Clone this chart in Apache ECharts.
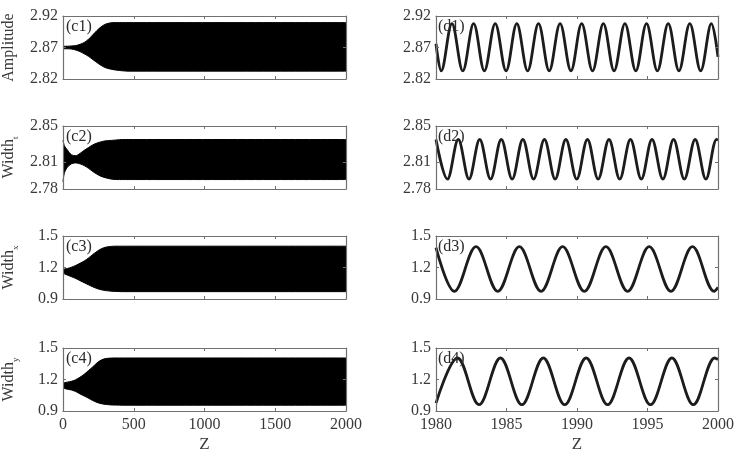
<!DOCTYPE html>
<html><head><meta charset="utf-8">
<script src="https://cdn.jsdelivr.net/npm/echarts@6/dist/echarts.min.js"></script>
<style>html,body{margin:0;padding:0;background:#fff}#c{width:737px;height:454px}</style>
</head><body><div id="c"></div>
<script>
// ---- data ----
const envZ = [0,10,30,60,90,120,150,180,210,240,270,300,340,380,420,460,500,2000];
const c1Upper = [2.872,2.872,2.872,2.8725,2.873,2.875,2.878,2.883,2.890,2.897,2.903,2.907,2.9092,2.9095,2.9095,2.9095,2.9095,2.9095];
const c1Lower = [2.868,2.868,2.868,2.8675,2.866,2.8635,2.860,2.856,2.851,2.846,2.8415,2.838,2.8355,2.834,2.833,2.8325,2.8325,2.8325];
const c2Upper = [2.834,2.828,2.8235,2.818,2.817,2.8195,2.823,2.826,2.829,2.831,2.8325,2.8335,2.834,2.8345,2.835,2.835,2.835,2.835];
const c2Lower = [2.788,2.798,2.804,2.808,2.809,2.808,2.806,2.803,2.7995,2.7965,2.794,2.7925,2.791,2.7905,2.7905,2.7905,2.7905,2.7905];
const c3Upper = [1.183,1.185,1.19,1.203,1.22,1.24,1.262,1.29,1.323,1.353,1.378,1.393,1.401,1.403,1.403,1.403,1.403,1.403];
const c3Lower = [1.145,1.14,1.128,1.112,1.095,1.075,1.055,1.035,1.016,1.0,0.988,0.98,0.975,0.972,0.97,0.97,0.97,0.97];
const c4Upper = [1.168,1.17,1.175,1.183,1.198,1.222,1.25,1.285,1.32,1.358,1.385,1.399,1.404,1.405,1.405,1.405,1.405,1.405];
const c4Lower = [1.118,1.115,1.108,1.1,1.085,1.063,1.043,1.022,1.0,0.982,0.97,0.963,0.958,0.956,0.955,0.955,0.955,0.955];

// right column: turning points (peaks / troughs) plus the two edge values
const d1Z = [1980.00,1980.37,1981.13,1981.90,1982.67,1983.43,1984.20,1984.97,1985.73,1986.50,1987.27,1988.03,1988.80,1989.57,1990.33,1991.10,1991.87,1992.63,1993.40,1994.17,1994.93,1995.70,1996.47,1997.23,1998.00,1998.77,1999.53,2000.00];
const d1V = [2.876,2.833,2.908,2.833,2.908,2.833,2.908,2.833,2.908,2.833,2.908,2.833,2.908,2.833,2.908,2.833,2.908,2.833,2.908,2.833,2.908,2.833,2.908,2.833,2.908,2.833,2.908,2.855];
const d2Z = [1980.00,1980.81,1981.58,1982.34,1983.10,1983.87,1984.63,1985.40,1986.16,1986.92,1987.69,1988.45,1989.21,1989.98,1990.74,1991.50,1992.27,1993.03,1993.79,1994.56,1995.32,1996.09,1996.85,1997.61,1998.38,1999.14,1999.90,2000.00];
const d2V = [2.835,2.791,2.835,2.791,2.835,2.791,2.835,2.791,2.835,2.791,2.835,2.791,2.835,2.791,2.835,2.791,2.835,2.791,2.835,2.791,2.835,2.791,2.835,2.791,2.835,2.791,2.835,2.8345];
const d3Z = [1980.00,1981.31,1982.84,1984.38,1985.91,1987.45,1988.98,1990.52,1992.05,1993.59,1995.12,1996.66,1998.19,1999.73,2000.00];
const d3V = [1.39,0.973,1.398,0.973,1.398,0.973,1.398,0.973,1.398,0.973,1.398,0.973,1.398,0.973,1.01];
const d4Z = [1980.00,1981.53,1983.05,1984.57,1986.09,1987.61,1989.13,1990.65,1992.17,1993.69,1995.21,1996.73,1998.25,1999.77,2000.00];
const d4V = [0.975,1.405,0.960,1.405,0.960,1.405,0.960,1.405,0.960,1.405,0.960,1.405,0.960,1.405,1.39];

const c1Ticks = [2.82, 2.87, 2.92];
const c2Ticks = [2.78, 2.81, 2.85];
const c34Ticks = [0.9, 1.2, 1.5];
const cXTicks = [0, 2000, 500];      // min, max, step
const dXTicks = [1980, 2000, 5];
const panelTags = ['(c1)','(d1)','(c2)','(d2)','(c3)','(d3)','(c4)','(d4)'];
const yNames = ['{w|Amplitude}', '{w|Width}{s|t}', '{w|Width}{s|x}', '{w|Width}{s|y}'];
const xName = 'Z';

// ---- layout ----
const FONT = 'Liberation Serif';
const colLeft = [62, 436], colWidth = [284, 282];
const rowTop = [16, 126, 236, 348], rowH = 63;
const rows = [
  {env: [c1Upper, c1Lower], d: [d1Z, d1V], ticks: c1Ticks},
  {env: [c2Upper, c2Lower], d: [d2Z, d2V], ticks: c2Ticks},
  {env: [c3Upper, c3Lower], d: [d3Z, d3V], ticks: c34Ticks},
  {env: [c4Upper, c4Lower], d: [d4Z, d4V], ticks: c34Ticks},
];

const grid = [], xAxis = [], yAxis = [], series = [], graphic = [];
const axColor = '#707070', txtColor = '#3a3a3a';
let g = 0;
rows.forEach((r, ri) => {
  [0, 1].forEach(col => {
    grid.push({left: colLeft[col], top: rowTop[ri], width: colWidth[col], height: rowH,
      show: false});
    const xt = col === 0 ? cXTicks : dXTicks;
    const last = ri === 3;
    const xBase = {type: 'value', gridIndex: g, min: xt[0], max: xt[1], interval: xt[2], z: 5,
      splitLine: {show: false}, axisLine: {show: true, onZero: false, lineStyle: {color: axColor, width: 1.2}},
      axisTick: {show: true, inside: true, length: 3, lineStyle: {color: axColor}}};
    xAxis.push(Object.assign({}, xBase, {position: 'bottom',
      axisLabel: {show: last, color: txtColor, fontFamily: FONT, fontSize: 16, margin: 6, formatter: v => String(v)},
      name: last ? xName : '', nameLocation: 'middle', nameGap: 25,
      nameTextStyle: {color: txtColor, fontFamily: FONT, fontSize: 17}}));
    xAxis.push(Object.assign({}, xBase, {position: 'top', axisLabel: {show: false}}));
    const yBase = {type: 'value', gridIndex: g, min: r.ticks[0], max: r.ticks[2], z: 5,
      splitLine: {show: false}, axisLine: {show: true, onZero: false, lineStyle: {color: axColor, width: 1.2}},
      axisTick: {show: true, inside: true, length: 3, lineStyle: {color: axColor}, customValues: r.ticks}};
    yAxis.push(Object.assign({}, yBase, {position: 'left',
      axisLabel: {show: true, color: txtColor, fontFamily: FONT, fontSize: 16, margin: 5, customValues: r.ticks,
        formatter: v => String(v)},
      name: col === 0 ? yNames[ri] : '', nameLocation: 'middle', nameRotate: 90, nameGap: 43,
      nameTextStyle: {color: txtColor, fontFamily: FONT, fontSize: 16,
        rich: {w: {fontFamily: FONT, fontSize: 16, color: txtColor, lineHeight: 22, verticalAlign: 'middle'},
               s: {fontFamily: FONT, fontSize: 9, color: txtColor, lineHeight: 22, verticalAlign: 'bottom'}}}}));
    yAxis.push(Object.assign({}, yBase, {position: 'right', axisLabel: {show: false}}));

    if (col === 0) {
      const [up, lo] = r.env;
      // black from the upper envelope down, then white below the lower envelope
      series.push({type: 'line', xAxisIndex: 2 * g, yAxisIndex: 2 * g, smooth: 0.3, z: 2,
        symbol: 'none', data: envZ.map((z, i) => [z, up[i]]),
        lineStyle: {color: '#000', width: 1}, areaStyle: {color: '#000', opacity: 1, origin: 'start'}});
      series.push({type: 'line', xAxisIndex: 2 * g, yAxisIndex: 2 * g, smooth: 0.3, z: 3,
        symbol: 'none', data: envZ.map((z, i) => [z, lo[i]]),
        lineStyle: {color: '#000', width: 1}, areaStyle: {color: '#fff', opacity: 1, origin: 'start'}});
    } else {
      const [zz, vv] = r.d;
      series.push({type: 'line', xAxisIndex: 2 * g, yAxisIndex: 2 * g, smooth: 0.36, symbol: 'none',
        data: zz.map((z, i) => [z, vv[i]]), lineStyle: {color: '#1c1c1c', width: 2.8}});
    }
    graphic.push({type: 'text', left: colLeft[col] + (col === 0 ? 4 : 2), top: rowTop[ri] + 3, z: 100,
      style: {text: panelTags[g], font: '16px "' + FONT + '"', fill: '#2a2a2a'}});
    g++;
  });
});

const chart = echarts.init(document.getElementById('c'), null, {renderer: 'canvas'});
chart.setOption({animation: false, backgroundColor: '#fff', grid, xAxis, yAxis, series, graphic});
</script></body></html>
